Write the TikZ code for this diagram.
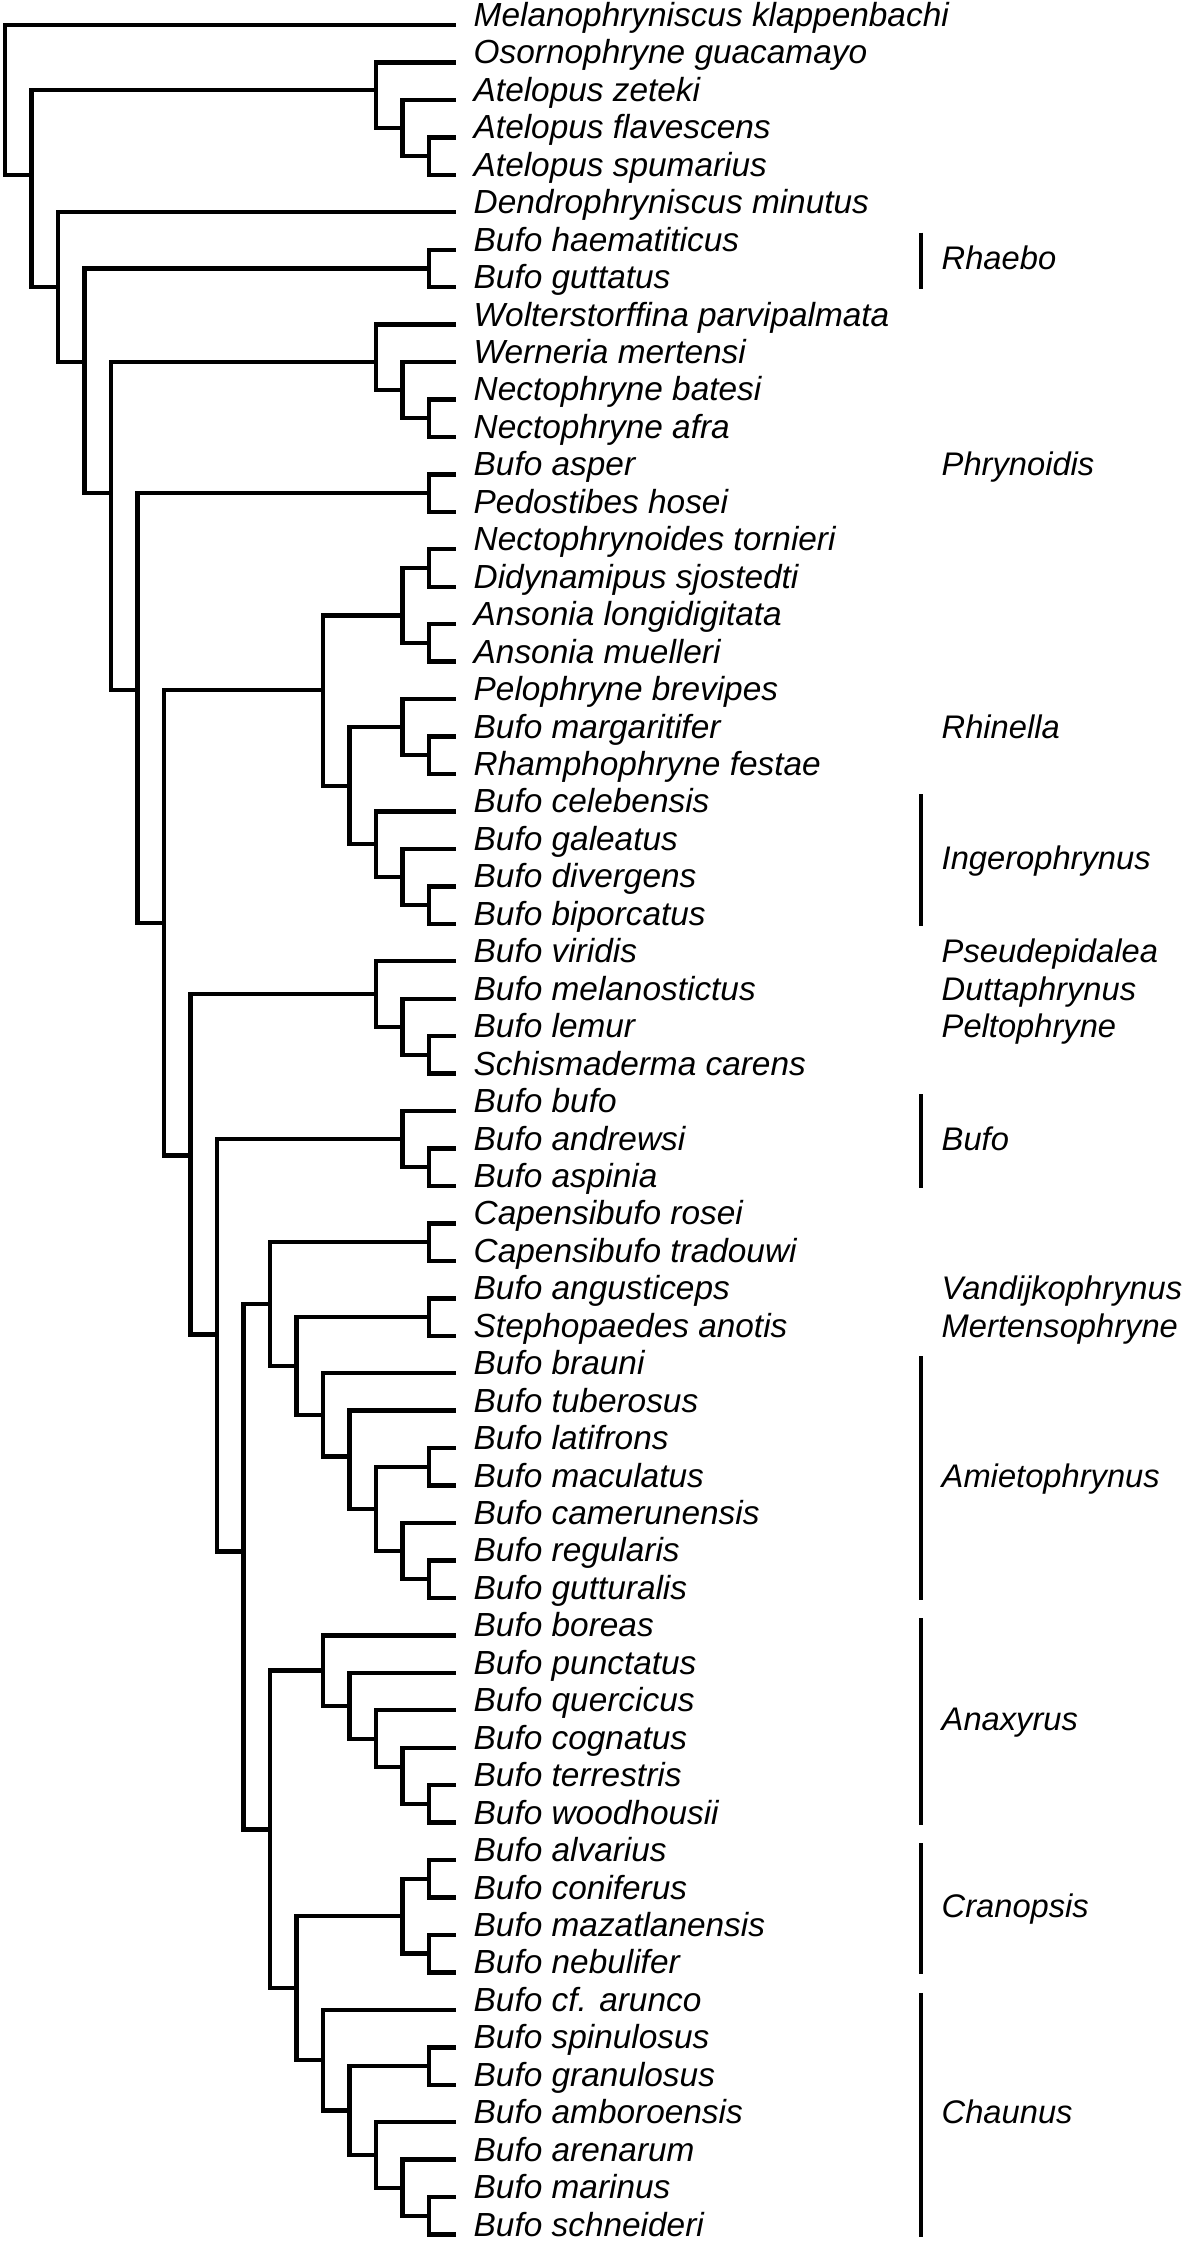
\documentclass[tikz,border=0pt]{standalone}
\usepackage{fontspec}
\setmainfont{Liberation Sans}
\usetikzlibrary{calc}

% join two children (upper, lower) at a given level, halfway between them
\newcommand{\joinpair}[4]{%
  \path let \p1=($(#3)!0.5!(#4)$) in coordinate (#1) at ({(0.05+#2*0.265)*1cm},\y1);
  \draw[branch] (#3) -| (#1) |- (#4);
}
% same, but at a given row
\newcommand{\joinat}[5]{%
  \coordinate (#1) at ({0.05+#2*0.265},{-0.25-(#3-1)*0.3745});
  \draw[branch] (#4) -| (#1) |- (#5);
}

\begin{document}
\begin{tikzpicture}[
    branch/.style={line width=1.25pt, black},
    taxon/.style={anchor=base west, inner sep=0pt, font=\fontsize{9.5}{11}\selectfont\itshape},
    genus/.style={anchor=base west, inner sep=0pt, font=\fontsize{9.3}{11}\selectfont\itshape},
    bar/.style={line width=1.25pt, black},
]
\useasboundingbox (0,0) rectangle (11.88,-22.46);

% Taxa, top to bottom
\foreach \name [count=\i] in {Melanophryniscus klappenbachi, Osornophryne guacamayo,
    Atelopus zeteki, Atelopus flavescens, Atelopus spumarius, Dendrophryniscus minutus,
    Bufo haematiticus, Bufo guttatus, Wolterstorffina parvipalmata, Werneria mertensi,
    Nectophryne batesi, Nectophryne afra, Bufo asper, Pedostibes hosei,
    Nectophrynoides tornieri, Didynamipus sjostedti, Ansonia longidigitata,
    Ansonia muelleri, Pelophryne brevipes, Bufo margaritifer, Rhamphophryne festae,
    Bufo celebensis, Bufo galeatus, Bufo divergens, Bufo biporcatus, Bufo viridis,
    Bufo melanostictus, Bufo lemur, Schismaderma carens, Bufo bufo, Bufo andrewsi,
    Bufo aspinia, Capensibufo rosei, Capensibufo tradouwi, Bufo angusticeps,
    Stephopaedes anotis, Bufo brauni, Bufo tuberosus, Bufo latifrons, Bufo maculatus,
    Bufo camerunensis, Bufo regularis, Bufo gutturalis, Bufo boreas, Bufo punctatus,
    Bufo quercicus, Bufo cognatus, Bufo terrestris, Bufo woodhousii, Bufo alvarius,
    Bufo coniferus, Bufo mazatlanensis, Bufo nebulifer, Bufo cf. arunco,
    Bufo spinulosus, Bufo granulosus, Bufo amboroensis, Bufo arenarum, Bufo marinus,
    Bufo schneideri} {
  \coordinate (t\i) at (4.555,{-0.25-(\i-1)*0.3745});
  \node[taxon] (l\i) at (4.73,{-0.265-(\i-1)*0.3745}) {\name};
}

% Atelopus group
\joinpair{c45}{16}{t4}{t5}
\joinpair{c35}{15}{t3}{c45}
\joinat{c25}{14}{2.74}{t2}{c35}
% Rhaebo
\joinpair{c78}{16}{t7}{t8}
% Nectophryne group
\joinpair{c1112}{16}{t11}{t12}
\joinpair{c1012}{15}{t10}{c1112}
\joinat{c912}{14}{10.0}{t9}{c1012}
% Phrynoidis
\joinpair{c1314}{16}{t13}{t14}
% Rhinella and Ingerophrynus
\joinpair{c1516}{16}{t15}{t16}
\joinpair{c1718}{16}{t17}{t18}
\joinat{c1518}{15}{16.77}{c1516}{c1718}
\joinpair{c2021}{16}{t20}{t21}
\joinpair{c1921}{15}{t19}{c2021}
\joinpair{c2425}{16}{t24}{t25}
\joinpair{c2325}{15}{t23}{c2425}
\joinpair{c2225}{14}{t22}{c2325}
\joinpair{c1925}{13}{c1921}{c2225}
\joinat{c1525}{12}{18.76}{c1518}{c1925}
% Pseudepidalea to Schismaderma
\joinpair{c2829}{16}{t28}{t29}
\joinpair{c2729}{15}{t27}{c2829}
\joinpair{c2629}{14}{t26}{c2729}
% Bufo
\joinpair{c3132}{16}{t31}{t32}
\joinpair{c3032}{15}{t30}{c3132}
% African group
\joinpair{c3334}{16}{t33}{t34}
\joinpair{c3536}{16}{t35}{t36}
\joinpair{c4243}{16}{t42}{t43}
\joinpair{c4143}{15}{t41}{c4243}
\joinpair{c3940}{16}{t39}{t40}
\joinpair{c3943}{14}{c3940}{c4143}
\joinat{c3843}{13}{39.22}{t38}{c3943}
\joinpair{c3743}{12}{t37}{c3843}
\joinpair{c3543}{11}{c3536}{c3743}
\joinpair{c3343}{10}{c3334}{c3543}
% Anaxyrus
\joinpair{c4849}{16}{t48}{t49}
\joinat{c4749}{15}{47.52}{t47}{c4849}
\joinpair{c4649}{14}{t46}{c4749}
\joinpair{c4549}{13}{t45}{c4649}
\joinpair{c4449}{12}{t44}{c4549}
% Cranopsis and Chaunus
\joinpair{c5051}{16}{t50}{t51}
\joinpair{c5253}{16}{t52}{t53}
\joinpair{c5053}{15}{c5051}{c5253}
\joinpair{c5960}{16}{t59}{t60}
\joinpair{c5860}{15}{t58}{c5960}
\joinpair{c5760}{14}{t57}{c5860}
\joinpair{c5556}{16}{t55}{t56}
\joinpair{c5560}{13}{c5556}{c5760}
\joinpair{c5460}{12}{t54}{c5560}
\joinpair{c5060}{11}{c5053}{c5460}
\joinpair{c4460}{10}{c4449}{c5060}
% backbone
\joinat{c3360}{9}{41.76}{c3343}{c4460}
\joinat{c3060}{8}{35.97}{c3032}{c3360}
\joinat{c2660}{7}{31.19}{c2629}{c3060}
\joinpair{c1560}{6}{c1525}{c2660}
\joinat{c1360}{5}{18.76}{c1314}{c1560}
\joinat{c960}{4}{13.49}{c912}{c1360}
\joinat{c760}{3}{10.0}{c78}{c960}
\joinpair{c660}{2}{t6}{c760}
\joinat{c260}{1}{5.0}{c25}{c660}
\joinpair{root}{0}{t1}{c260}

% Genera
\draw[bar] (9.21,-2.327) -- (9.21,-2.8915);
\node[genus] (rhaebo) at (9.41,-2.699) {Rhaebo};
\node[genus] (phryn) at (9.41,-4.759) {Phrynoidis};
\node[genus] (rhin) at (9.41,-7.3805) {Rhinella};
\draw[bar] (9.21,-7.9445) -- (9.21,-9.258);
\node[genus] (inger) at (9.41,-8.691) {Ingerophrynus};
\node[genus] (pseud) at (9.41,-9.6275) {Pseudepidalea};
\node[genus] (dutta) at (9.41,-10.002) {Duttaphrynus};
\node[genus] (pelto) at (9.41,-10.3765) {Peltophryne};
\draw[bar] (9.21,-10.9405) -- (9.21,-11.8795);
\node[genus] (bufo) at (9.41,-11.5) {Bufo};
\node[genus] (vandi) at (9.41,-12.998) {Vandijkophrynus};
\node[genus] (merte) at (9.41,-13.3725) {Mertensophryne};
\draw[bar] (9.21,-13.562) -- (9.21,-15.999);
\node[genus] (amiet) at (9.41,-14.8705) {Amietophrynus};
\draw[bar] (9.21,-16.1835) -- (9.21,-18.246);
\node[genus] (anax) at (9.41,-17.305) {Anaxyrus};
\draw[bar] (9.21,-18.4305) -- (9.21,-19.744);
\node[genus] (crano) at (9.41,-19.177) {Cranopsis};
\draw[bar] (9.21,-19.9285) -- (9.21,-22.3655);
\node[genus] (chaun) at (9.41,-21.237) {Chaunus};
\end{tikzpicture}
\end{document}
